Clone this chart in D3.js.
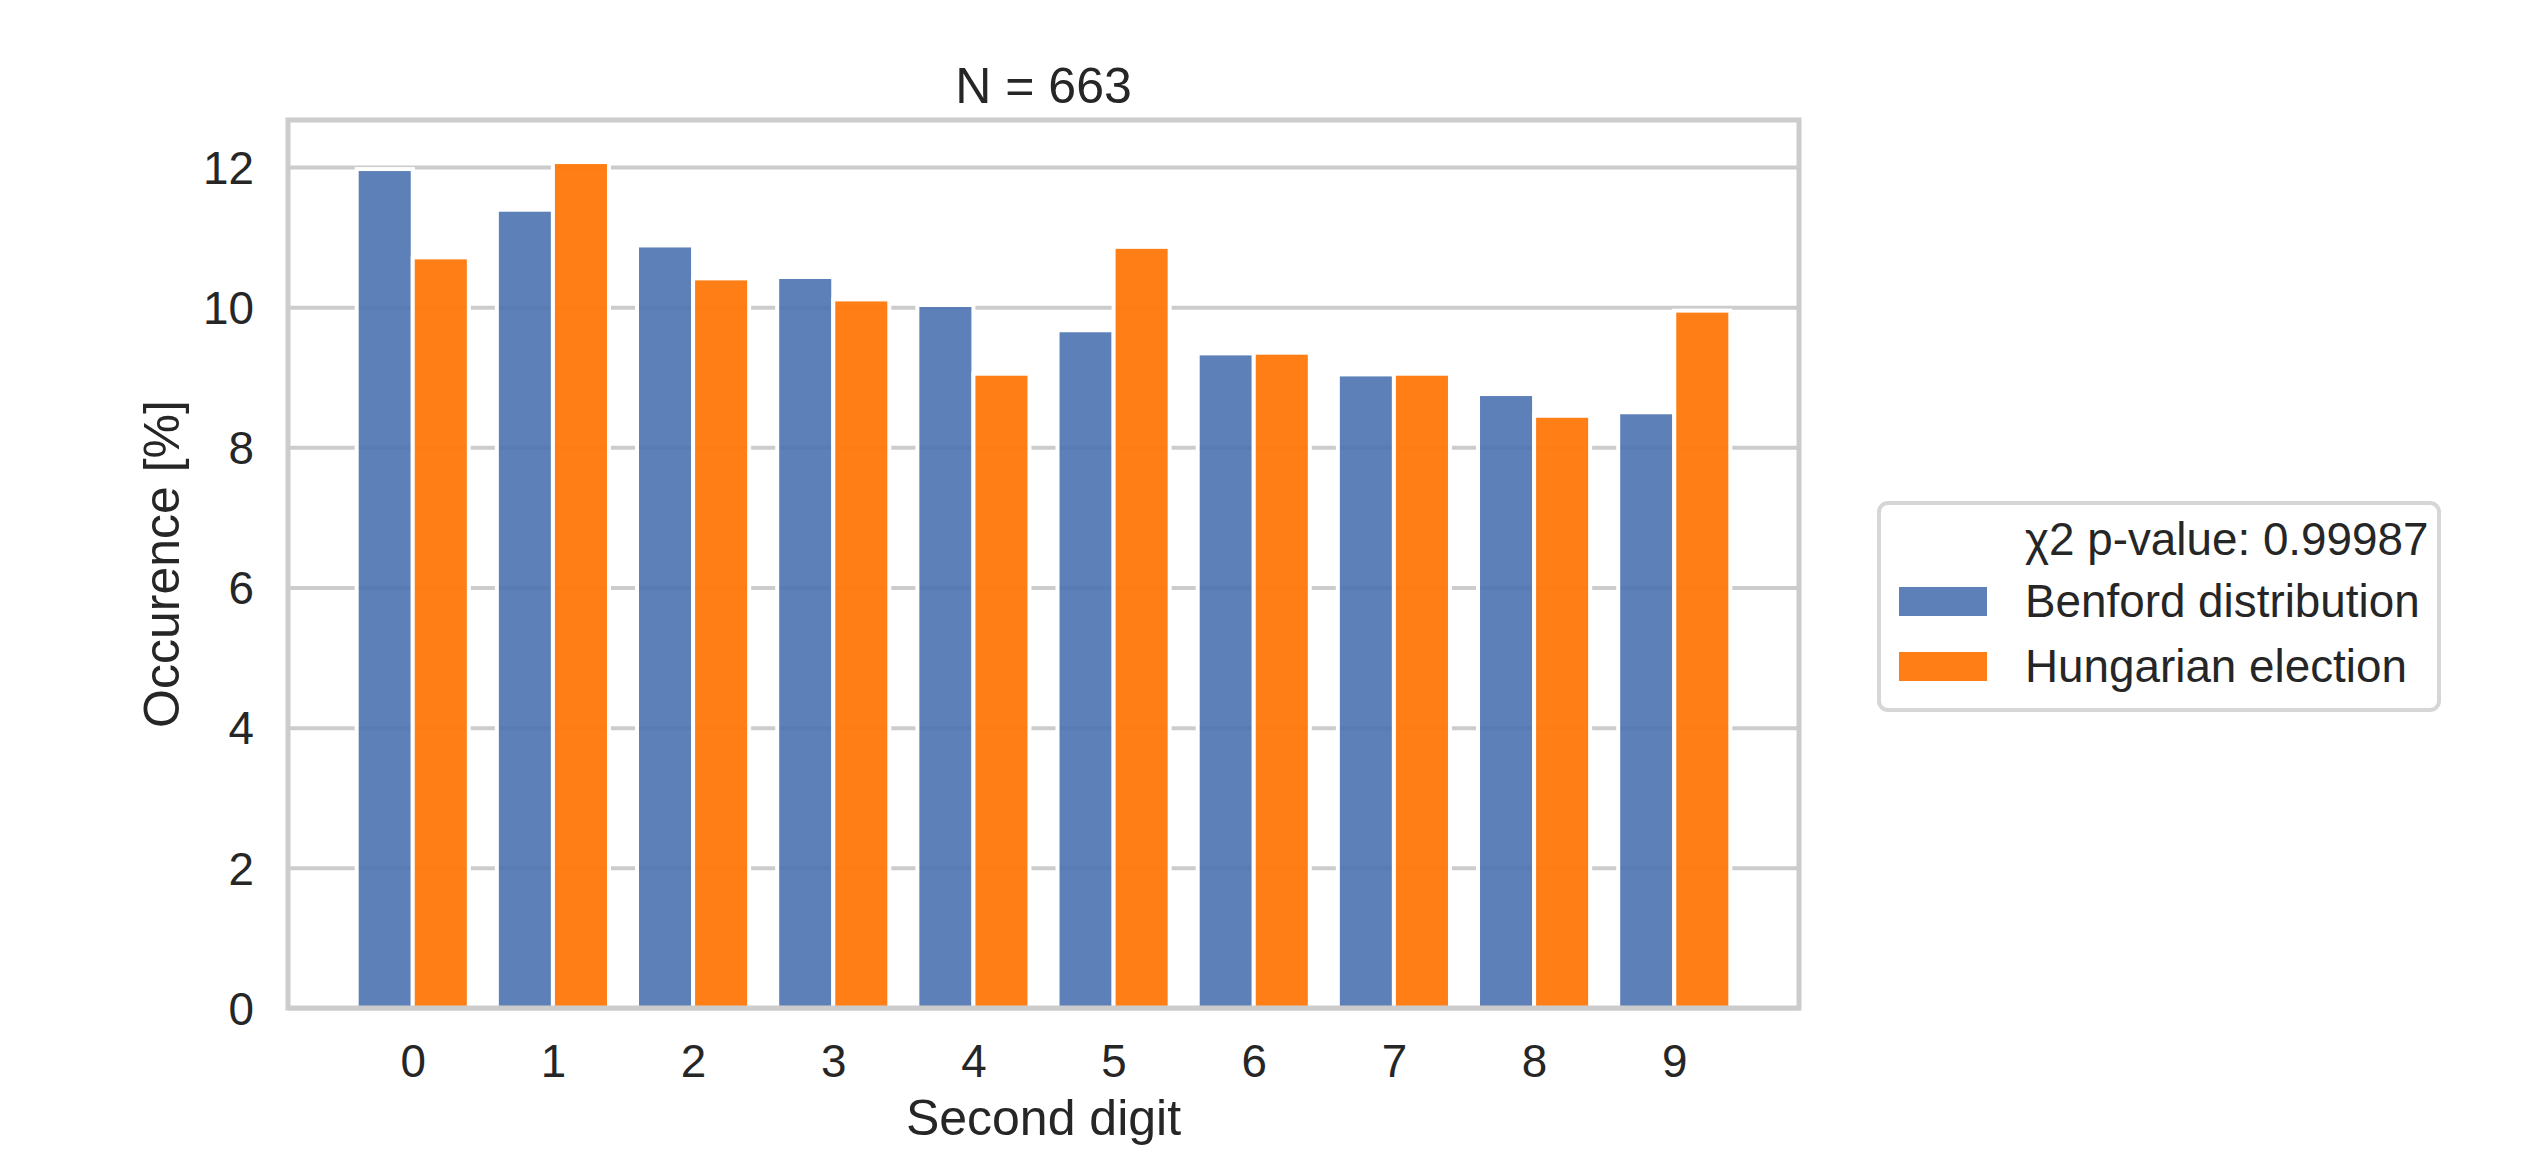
<!DOCTYPE html>
<html>
<head>
<meta charset="utf-8">
<script src="https://cdn.jsdelivr.net/npm/d3@7"></script>
<style>
  html, body { margin: 0; padding: 0; background: #ffffff; }
  svg { display: block; }
  text { font-family: "Liberation Sans", Arial, sans-serif; fill: #262626; }
</style>
</head>
<body>
<svg id="chart" width="2526" height="1163"></svg>
<script>
// ---- data ----
const digits = ["0", "1", "2", "3", "4", "5", "6", "7", "8", "9"];
const benford = [11.97, 11.39, 10.88, 10.43, 10.03, 9.67, 9.34, 9.04, 8.76, 8.50];
const hungarian = [10.71, 12.07, 10.41, 10.11, 9.05, 10.86, 9.35, 9.05, 8.45, 9.95];
const yTicks = [0, 2, 4, 6, 8, 10, 12];
const seriesNames = ["Benford distribution", "Hungarian election"];
const titleText = "N = 663";
const pValueText = "χ2 p-value: 0.99987";
const xLabelText = "Second digit";
const yLabelText = "Occurence [%]";

// ---- layout ----
const W = 2526, H = 1163;
const plot = { left: 288, right: 1799, top: 120, bottom: 1008 };
const colors = ["#4C72B0", "#ff7a0c"];
const alphas = [0.9, 0.96];
const gridColor = "#cccccc";

const svg = d3.select("#chart");

const x = d3.scaleLinear().domain([-0.89, 9.89]).range([plot.left, plot.right]);
const y = d3.scaleLinear().domain([0, 12.67]).range([plot.bottom, plot.top]);

// background
svg.append("rect").attr("x", 0).attr("y", 0).attr("width", W).attr("height", H).attr("fill", "#fff");

// gridlines (below bars)
const yAxisGrid = d3.axisLeft(y).tickValues(yTicks).tickSize(-(plot.right - plot.left)).tickFormat("");
const gGrid = svg.append("g").attr("transform", `translate(${plot.left},0)`).call(yAxisGrid);
gGrid.select(".domain").remove();
gGrid.selectAll("line").attr("stroke", gridColor).attr("stroke-width", 4);

// bars
const barW = 0.4;
const series = [benford, hungarian];
series.forEach((vals, s) => {
  svg.append("g")
    .selectAll("rect")
    .data(vals)
    .join("rect")
    .attr("x", (d, i) => x(i - barW + s * barW))
    .attr("width", x(barW) - x(0))
    .attr("y", d => y(d))
    .attr("height", d => y(0) - y(d))
    .attr("fill", colors[s])
    .attr("fill-opacity", alphas[s])
    .attr("stroke", "#ffffff")
    .attr("stroke-width", 4);
});

// y tick labels
const yAxis = d3.axisLeft(y).tickValues(yTicks).tickSize(0).tickPadding(0).tickFormat(d3.format("d"));
const gY = svg.append("g").attr("transform", `translate(254,0)`).call(yAxis);
gY.select(".domain").remove();
gY.selectAll("text")
  .attr("font-size", 45.8)
  .attr("font-family", "Liberation Sans, Arial, sans-serif")
  .attr("fill", "#262626")
  .attr("dy", "0.355em");

// x tick labels
const xAxis = d3.axisBottom(x).tickValues(d3.range(digits.length)).tickSize(0).tickPadding(0)
  .tickFormat(i => digits[i]);
const gX = svg.append("g").attr("transform", `translate(0,1077)`).call(xAxis);
gX.select(".domain").remove();
gX.selectAll("text")
  .attr("font-size", 45.8)
  .attr("font-family", "Liberation Sans, Arial, sans-serif")
  .attr("fill", "#262626")
  .attr("dy", 0)
  .attr("y", 0);

// spines (frame)
svg.append("rect")
  .attr("x", plot.left).attr("y", plot.top)
  .attr("width", plot.right - plot.left).attr("height", plot.bottom - plot.top)
  .attr("fill", "none").attr("stroke", gridColor).attr("stroke-width", 5);

// title
svg.append("text")
  .attr("x", (plot.left + plot.right) / 2).attr("y", 103)
  .attr("text-anchor", "middle").attr("font-size", 50)
  .text(titleText);

// x label
svg.append("text")
  .attr("x", (plot.left + plot.right) / 2).attr("y", 1135)
  .attr("text-anchor", "middle").attr("font-size", 50)
  .text(xLabelText);

// y label
svg.append("text")
  .attr("transform", `translate(179,${(plot.top + plot.bottom) / 2}) rotate(-90)`)
  .attr("text-anchor", "middle").attr("font-size", 50)
  .text(yLabelText);

// legend
const lg = svg.append("g");
lg.append("rect")
  .attr("x", 1879).attr("y", 503).attr("width", 560).attr("height", 207)
  .attr("rx", 9).attr("ry", 9)
  .attr("fill", "#ffffff").attr("fill-opacity", 0.8)
  .attr("stroke", "#d6d6d6").attr("stroke-width", 4);

const legendRows = [
  { label: pValueText, color: null, alpha: 1, base: 555 },
  { label: seriesNames[0], color: colors[0], alpha: alphas[0], base: 617 },
  { label: seriesNames[1], color: colors[1], alpha: alphas[1], base: 682 }
];
legendRows.forEach(r => {
  if (r.color) {
    lg.append("rect")
      .attr("x", 1899).attr("y", r.base - 30).attr("width", 88).attr("height", 29)
      .attr("fill", r.color).attr("fill-opacity", r.alpha);
  }
  lg.append("text")
    .attr("x", 2025).attr("y", r.base)
    .attr("font-size", 45.8)
    .text(r.label);
});
</script>
</body>
</html>
